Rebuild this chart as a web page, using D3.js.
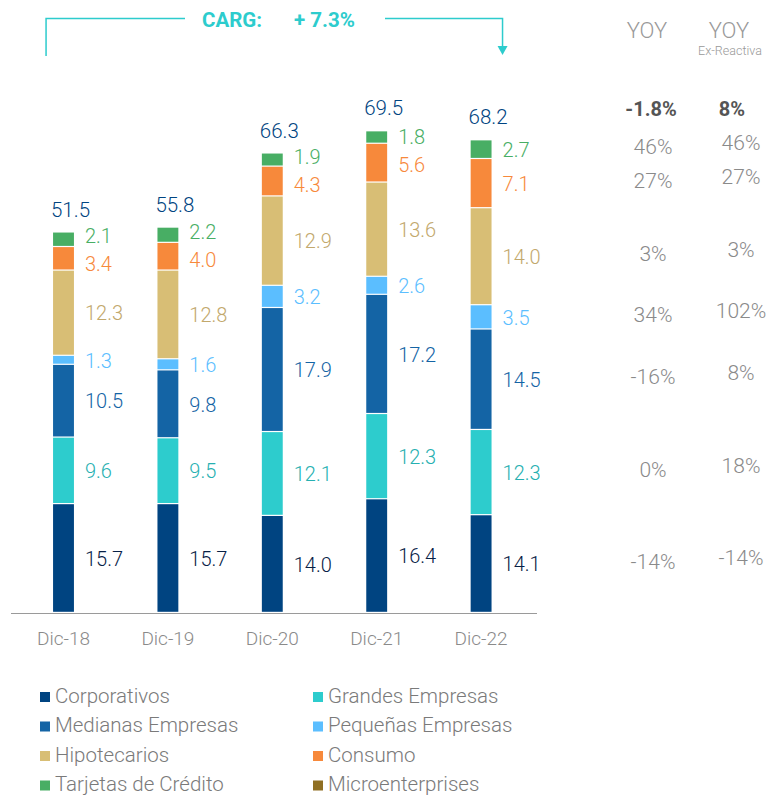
<!DOCTYPE html>
<html>
<head>
<meta charset="utf-8">
<script src="https://cdn.jsdelivr.net/npm/d3@7"></script>
<style>
  body { margin: 0; background: #fff; }
  svg { font-family: Roboto, "Noto Sans", sans-serif; font-weight: 300; }
</style>
</head>
<body>
<svg id="chart"></svg>
<script>
const years = ["Dic-18", "Dic-19", "Dic-20", "Dic-21", "Dic-22"];
const seriesNames = ["Corporativos", "Grandes Empresas", "Medianas Empresas", "Pequeñas Empresas",
  "Hipotecarios", "Consumo", "Tarjetas de Crédito"];
const legendNames = ["Corporativos", "Grandes Empresas", "Medianas Empresas", "Pequeñas Empresas",
  "Hipotecarios", "Consumo", "Tarjetas de Crédito", "Microenterprises"];

const corporativos = [15.7, 15.7, 14.0, 16.4, 14.1];
const grandes = [9.6, 9.5, 12.1, 12.3, 12.3];
const medianas = [10.5, 9.8, 17.9, 17.2, 14.5];
const pequenas = [1.3, 1.6, 3.2, 2.6, 3.5];
const hipotecarios = [12.3, 12.8, 12.9, 13.6, 14.0];
const consumo = [3.4, 4.0, 4.3, 5.6, 7.1];
const tarjetas = [2.1, 2.2, 1.9, 1.8, 2.7];
const totals = [51.5, 55.8, 66.3, 69.5, 68.2];

// YOY columns, one entry per series (bottom to top), plus the total
const yoy = ["-14%", "0%", "-16%", "34%", "3%", "27%", "46%"];
const yoyExReactiva = ["-14%", "18%", "8%", "102%", "3%", "27%", "46%"];
const yoyTotal = ["-1.8%", "8%"];

const barColors = ["#004481", "#2DCCCD", "#1464A5", "#5BBEFF", "#D8BE75", "#F7893B", "#48AE64", "#8F6F22"];
const labelColors = ["#072146", "#26B0B1", "#1464A5", "#5BBEFF", "#C2A86C", "#F7893B", "#48AE64"];

const width = 769, height = 795;
const svg = d3.select("#chart").attr("width", width).attr("height", height);

const values = [corporativos, grandes, medianas, pequenas, hipotecarios, consumo, tarjetas];
const rows = years.map((yr, i) => {
  const r = { year: yr };
  seriesNames.forEach((s, k) => r[s] = values[k][i]);
  return r;
});
const stacked = d3.stack().keys(seriesNames)(rows);

const x = d3.scaleBand().domain(years).range([11.3, 533.3]).paddingInner(0.8).paddingOuter(0.4);
const y = d3.scaleLinear().domain([0, 70]).range([613, 613 - 70 * 6.93]);

// bars
const layer = svg.append("g").selectAll("g").data(stacked).join("g")
  .attr("fill", (d, i) => barColors[i]);
layer.selectAll("rect").data(d => d).join("rect")
  .attr("x", d => x(d.data.year))
  .attr("width", x.bandwidth())
  .attr("y", d => y(d[1]))
  .attr("height", d => Math.max(0, y(d[0]) - y(d[1]) - 1.2));

// segment labels: start at the middle of each segment, then spread the
// ones that sit too close to their neighbour
const minGap = 28;
years.forEach((yr, i) => {
  const pos = stacked.map(s => y((s[i][0] + s[i][1]) / 2));
  for (let k = 1; k < pos.length; k++) {
    const gap = pos[k - 1] - pos[k];
    if (gap < minGap) {
      const shift = (minGap - gap) / 2;
      pos[k - 1] += shift;
      pos[k] -= shift;
    }
  }
  svg.append("g").selectAll("text").data(stacked).join("text")
    .attr("x", x(yr) + x.bandwidth() + 11)
    .attr("y", (s, k) => pos[k])
    .attr("dy", "0.36em")
    .attr("fill", (s, k) => labelColors[k])
    .attr("font-size", 20)
    .text(s => d3.format(".1f")(s[i][1] - s[i][0]));
});

// totals
svg.append("g").selectAll("text").data(years).join("text")
  .attr("x", (d, i) => x(d) + x.bandwidth() / 2 + 7)
  .attr("y", (d, i) => y(stacked[stacked.length - 1][i][1]) - 16)
  .attr("text-anchor", "middle")
  .attr("fill", "#004481")
  .attr("font-size", 20.5)
  .text((d, i) => d3.format(".1f")(totals[i]));

// x axis
svg.append("line")
  .attr("x1", 11).attr("x2", 537)
  .attr("y1", y(0) + 0.5).attr("y2", y(0) + 0.5)
  .attr("stroke", "#9a9a9a").attr("stroke-width", 1.2);
svg.append("g").selectAll("text").data(years).join("text")
  .attr("x", d => x(d) + x.bandwidth() / 2)
  .attr("y", 645)
  .attr("text-anchor", "middle")
  .attr("fill", "#8a8a8a")
  .attr("font-size", 19)
  .text(d => d);

// CARG annotation
const teal = "#2DCCCD";
const lx = x(years[0]) - 7, rx = x(years[4]) + x.bandwidth() + 11;
svg.append("path")
  .attr("d", `M${lx},56V18.5H185`)
  .attr("fill", "none").attr("stroke", teal).attr("stroke-width", 1.5);
svg.append("path")
  .attr("d", `M385,18.5H${rx}V48`)
  .attr("fill", "none").attr("stroke", teal).attr("stroke-width", 1.5);
svg.append("path")
  .attr("d", `M${rx - 5},46L${rx + 5},46L${rx},55Z`)
  .attr("fill", teal);
svg.append("text").attr("x", 202).attr("y", 26.5)
  .attr("fill", teal).attr("font-size", 20.5).attr("font-weight", 700)
  .text("CARG:");
svg.append("text").attr("x", 294).attr("y", 26.5)
  .attr("fill", teal).attr("font-size", 20.5).attr("font-weight", 700)
  .text("+ 7.3%");

// YOY columns
const c1 = 651, c2 = 737;
svg.append("text").attr("x", c1 - 4).attr("y", 38).attr("text-anchor", "middle")
  .attr("fill", "#999").attr("font-size", 22).text("YOY");
svg.append("text").attr("x", c2 - 8).attr("y", 38).attr("text-anchor", "middle")
  .attr("fill", "#999").attr("font-size", 22).text("YOY");
svg.append("text").attr("x", c2 - 7).attr("y", 55).attr("text-anchor", "middle")
  .attr("fill", "#999").attr("font-size", 12.5).text("Ex-Reactiva");

svg.append("text").attr("x", c1).attr("y", 116).attr("text-anchor", "middle")
  .attr("fill", "#555").attr("font-size", 20).attr("font-weight", 700).text(yoyTotal[0]);
svg.append("text").attr("x", c2 - 5).attr("y", 116).attr("text-anchor", "middle")
  .attr("fill", "#555").attr("font-size", 20).attr("font-weight", 700).text(yoyTotal[1]);

const last = years.length - 1;
const rowY = k => y((stacked[k][last][0] + stacked[k][last][1]) / 2);
svg.append("g").selectAll("text").data(yoy).join("text")
  .attr("x", c1 + 2)
  .attr("y", (d, k) => rowY(k) - 3)
  .attr("dy", "0.36em")
  .attr("text-anchor", "middle")
  .attr("fill", "#8a8a8a")
  .attr("font-size", 21)
  .text(d => d);
svg.append("g").selectAll("text").data(yoyExReactiva).join("text")
  .attr("x", c2 + 4)
  .attr("y", (d, k) => rowY(k) - 7)
  .attr("dy", "0.36em")
  .attr("text-anchor", "middle")
  .attr("fill", "#8a8a8a")
  .attr("font-size", 21)
  .text(d => d);

// legend
const legend = svg.append("g").selectAll("g").data(legendNames).join("g")
  .attr("transform", (d, i) => `translate(${i % 2 ? 313 : 40},${692 + Math.floor(i / 2) * 29.5})`);
legend.append("rect").attr("width", 10).attr("height", 10)
  .attr("fill", (d, i) => barColors[i]);
legend.append("text").attr("x", 15).attr("y", 10.5)
  .attr("fill", "#7a7a7a").attr("font-size", 20.5)
  .text(d => d);
</script>
</body>
</html>
